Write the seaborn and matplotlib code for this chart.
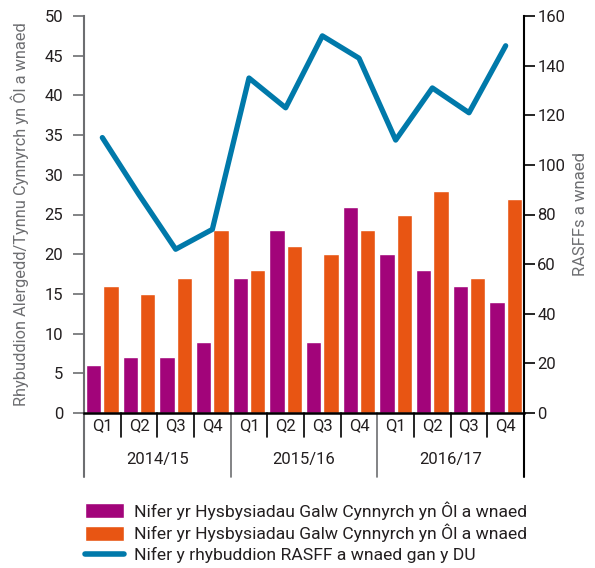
import numpy as np
import pandas as pd
import seaborn as sns
import matplotlib.pyplot as plt
import matplotlib.transforms as mtransforms
from matplotlib.patches import Patch
from matplotlib.lines import Line2D

sns.set_style('white')
plt.rcParams['font.family'] = ['Roboto', 'DejaVu Sans']

# data
years = ['2014/15', '2015/16', '2016/17']
quarters = ['Q1', 'Q2', 'Q3', 'Q4']
recalls_purple = [6, 7, 7, 9, 17, 23, 9, 26, 20, 18, 16, 14]
recalls_orange = [16, 15, 17, 23, 18, 21, 20, 23, 25, 28, 17, 27]
rasff_uk = [111, 88, 66, 74, 135, 123, 152, 143, 110, 131, 121, 148]
bar_label = 'Nifer yr Hysbysiadau Galw Cynnyrch yn Ôl a wnaed'
line_label = 'Nifer y rhybuddion RASFF a wnaed gan y DU'

purple = '#A2047A'
orange = '#E85513'
blue = '#0079AA'
txt = '#231F20'
grey = '#6D6E71'

periods = [y + ' ' + q for y in years for q in quarters]
df = pd.DataFrame({
    'period': periods * 2,
    'value': recalls_purple + recalls_orange,
    'series': ['purple'] * len(periods) + ['orange'] * len(periods),
})

fig = plt.figure(figsize=(5.95, 5.68), dpi=100)
ax = fig.add_axes([84 / 595, 1 - 413 / 568, 440 / 595, 397 / 568])

sns.barplot(data=df, x='period', y='value', hue='series', order=periods,
            palette=[purple, orange], saturation=1, width=0.94, gap=0.1,
            legend=False, ax=ax)
ax.set_xlim(-0.5, len(periods) - 0.5)
ax.set_ylim(0, 50)
ax.set_yticks(np.arange(0, 51, 5))
ax.set_xticks(np.arange(len(periods)))
ax.set_xticklabels(quarters * len(years))
ax.set_xlabel('')
ax.set_ylabel('Rhybuddion Alergedd/Tynnu Cynnyrch yn Ôl a wnaed', color=grey, fontsize=11.8)
ax.yaxis.set_label_coords(-0.125, 0.5)
ax.tick_params(axis='x', length=0, pad=4, labelsize=12, labelcolor=txt)
ax.tick_params(axis='y', length=8, width=1.2, color=grey, pad=7, labelsize=12, labelcolor=txt)
for s in ['top', 'right']:
    ax.spines[s].set_visible(False)
ax.spines['left'].set_color(grey)
ax.spines['left'].set_linewidth(1.5)
ax.spines['bottom'].set_color('black')
ax.spines['bottom'].set_linewidth(1.8)

ax2 = ax.twinx()
sns.lineplot(x=np.arange(len(periods)), y=rasff_uk, color=blue, lw=3.8, ax=ax2)
ax2.set_ylim(0, 160)
ax2.set_yticks(np.arange(0, 161, 20))
ax2.set_ylabel('RASFFs a wnaed', color=grey, fontsize=12)
ax2.yaxis.set_label_coords(1.112, 0.5)
ax2.tick_params(axis='y', length=8, width=1.2, color='black', pad=1.5, labelsize=12, labelcolor=txt)
for s in ['top', 'left', 'bottom']:
    ax2.spines[s].set_visible(False)
ax2.spines['right'].set_color('black')
ax2.spines['right'].set_linewidth(1.5)

# two-level category axis
trans = mtransforms.blended_transform_factory(ax.transData, ax.transAxes)
for i in range(1, len(periods)):
    x = i - 0.5
    if i % len(quarters) == 0:
        ax.plot([x, x], [0, -0.161], transform=trans, color=grey, lw=1.2, clip_on=False)
    else:
        ax.plot([x, x], [0, -0.06], transform=trans, color='black', lw=1.2, clip_on=False)
ax.plot([-0.5, -0.5], [0, -0.161], transform=trans, color=grey, lw=1.5, clip_on=False)
ax.plot([len(periods) - 0.5] * 2, [0, -0.161], transform=trans, color='black', lw=1.5, clip_on=False)
for j, y in enumerate(years):
    xc = j * len(quarters) + (len(quarters) - 1) / 2
    ax.text(xc, -0.118, y, transform=trans, ha='center', va='center', fontsize=12, color=txt)

handles = [Patch(facecolor=purple), Patch(facecolor=orange), Line2D([], [], color=blue, lw=4)]
fig.legend(handles, [bar_label, bar_label, line_label], loc='upper left',
           bbox_to_anchor=(85 / 595, 1 - 501 / 568), frameon=False, fontsize=12.6,
           handlelength=2.25, handleheight=0.95, handletextpad=0.55, labelspacing=0.25,
           borderpad=0, borderaxespad=0, labelcolor=txt)

fig.savefig('out.png', dpi=100)
